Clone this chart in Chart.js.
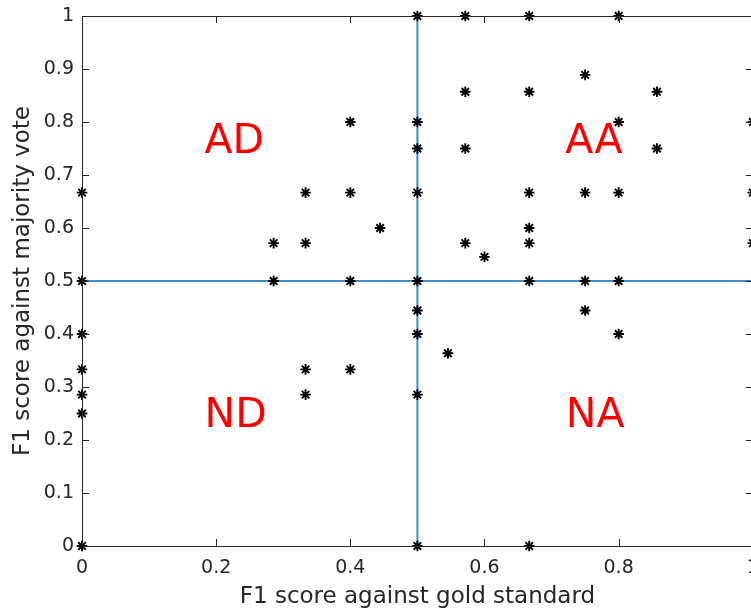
<!DOCTYPE html>
<html>
<head>
<meta charset="utf-8">
<script src="https://cdn.jsdelivr.net/npm/chart.js@4.4.0/dist/chart.umd.min.js"></script>
<style>
  html, body { margin: 0; padding: 0; background: #fff; overflow: hidden; }
  #wrap { width: 760px; height: 610px; }
</style>
</head>
<body>
<div id="wrap"><canvas id="grafico" width="760" height="610"></canvas></div>
<script>
// Dados do gráfico
const xTicks = [0, 0.2, 0.4, 0.6, 0.8, 1];
const yTicks = [0, 0.1, 0.2, 0.3, 0.4, 0.5, 0.6, 0.7, 0.8, 0.9, 1];

// F1 contra padrão ouro (x) e contra voto da maioria (y)
const goldF1 = [
    0, 0, 0, 0, 0, 0, 0,
    0.2857, 0.2857,
    0.3333, 0.3333, 0.3333, 0.3333,
    0.4, 0.4, 0.4, 0.4,
    0.4444,
    0.5, 0.5, 0.5, 0.5, 0.5, 0.5, 0.5, 0.5, 0.5,
    0.5455,
    0.5714, 0.5714, 0.5714, 0.5714,
    0.6,
    0.6667, 0.6667, 0.6667, 0.6667, 0.6667, 0.6667, 0.6667,
    0.75, 0.75, 0.75, 0.75,
    0.8, 0.8, 0.8, 0.8, 0.8,
    0.8571, 0.8571,
    1, 1, 1
];
const majorityF1 = [
    0.6667, 0.5, 0.4, 0.3333, 0.2857, 0.25, 0,
    0.5714, 0.5,
    0.6667, 0.5714, 0.3333, 0.2857,
    0.8, 0.6667, 0.5, 0.3333,
    0.6,
    1, 0.8, 0.75, 0.6667, 0.5, 0.4444, 0.4, 0.2857, 0,
    0.3636,
    1, 0.8571, 0.75, 0.5714,
    0.5455,
    1, 0.8571, 0.6667, 0.6, 0.5714, 0.5, 0,
    0.8889, 0.6667, 0.5, 0.4444,
    1, 0.8, 0.6667, 0.5, 0.4,
    0.8571, 0.75,
    0.8, 0.6667, 0.5714
];

// Limiares que dividem os quadrantes
const limiarX = 0.5;
const limiarY = 0.5;

// Rótulos dos quadrantes (centro em x, linha de base em y, em coordenadas de dados)
const quadrantes = ['AD', 'AA', 'ND', 'NA'];
const quadranteX = [0.227, 0.763, 0.229, 0.765];
const quadranteY = [0.741, 0.741, 0.225, 0.225];

const FONTE = 'DejaVu Sans';
const COR_EIXO = '#262626';

// Plugin: caixa estilo MATLAB com marcas para dentro + rótulos dos quadrantes
const caixaPlugin = {
    id: 'caixa',
    beforeDatasetsDraw(chart) {
        const { ctx, scales: { x, y } } = chart;
        ctx.save();
        ctx.fillStyle = '#ff0000';
        ctx.font = `41px "${FONTE}"`;
        ctx.textAlign = 'center';
        ctx.textBaseline = 'alphabetic';
        quadrantes.forEach((txt, i) => {
            ctx.fillText(txt, x.getPixelForValue(quadranteX[i]), y.getPixelForValue(quadranteY[i]));
        });
        ctx.restore();
    },
    afterDatasetsDraw(chart) {
        const { ctx, chartArea: a, scales: { x, y } } = chart;
        const tam = 7;
        ctx.save();
        ctx.strokeStyle = COR_EIXO;
        ctx.lineWidth = 1;
        ctx.beginPath();
        ctx.rect(Math.round(a.left) + 0.5, Math.round(a.top) + 0.5,
            Math.round(a.right - a.left), Math.round(a.bottom - a.top));
        xTicks.forEach(v => {
            const px = Math.round(x.getPixelForValue(v)) + 0.5;
            ctx.moveTo(px, a.bottom); ctx.lineTo(px, a.bottom - tam);
            ctx.moveTo(px, a.top); ctx.lineTo(px, a.top + tam);
        });
        yTicks.forEach(v => {
            const py = Math.round(y.getPixelForValue(v)) + 0.5;
            ctx.moveTo(a.left, py); ctx.lineTo(a.left + tam, py);
            ctx.moveTo(a.right, py); ctx.lineTo(a.right - tam, py);
        });
        ctx.stroke();
        ctx.restore();
    }
};

const pontos = goldF1.map((g, i) => ({ x: g, y: majorityF1[i] }));

new Chart(document.getElementById('grafico'), {
    type: 'scatter',
    data: {
        datasets: [
            {
                data: pontos,
                pointStyle: 'star',
                radius: 5.3,
                borderColor: '#000',
                backgroundColor: '#000',
                borderWidth: 1.9,
                clip: false,
                order: 1
            },
            {
                data: [{ x: limiarX, y: 0 }, { x: limiarX, y: 1 }],
                showLine: true,
                borderColor: '#3a8dd0',
                borderWidth: 2,
                pointRadius: 0,
                order: 2
            },
            {
                data: [{ x: 0, y: limiarY }, { x: 1, y: limiarY }],
                showLine: true,
                borderColor: '#3a8dd0',
                borderWidth: 2,
                pointRadius: 0,
                order: 2
            }
        ]
    },
    options: {
        responsive: false,
        animation: false,
        layout: { padding: { top: 16, right: 7, left: 0, bottom: 0 } },
        plugins: {
            legend: { display: false },
            tooltip: { enabled: false }
        },
        scales: {
            x: {
                type: 'linear',
                min: 0,
                max: 1,
                afterBuildTicks: s => { s.ticks = xTicks.map(v => ({ value: v })); },
                afterFit: s => { s.height = 64; s.paddingLeft = 0; s.paddingRight = 0; },
                grid: { display: false, drawTicks: false },
                border: { display: false },
                ticks: {
                    padding: 11,
                    color: COR_EIXO,
                    font: { family: FONTE, size: 19 },
                    callback: v => String(v),
                    maxRotation: 0
                },
                title: {
                    display: true,
                    text: 'F1 score against gold standard',
                    color: COR_EIXO,
                    font: { family: FONTE, size: 23, lineHeight: 1 },
                    padding: { top: 0, bottom: 1.5 }
                }
            },
            y: {
                type: 'linear',
                min: 0,
                max: 1,
                afterBuildTicks: s => { s.ticks = yTicks.map(v => ({ value: v })); },
                afterFit: s => { s.width = 82; s.paddingTop = 0; s.paddingBottom = 0; },
                grid: { display: false, drawTicks: false },
                border: { display: false },
                ticks: {
                    padding: 8,
                    color: COR_EIXO,
                    font: { family: FONTE, size: 19 },
                    callback: v => String(v)
                },
                title: {
                    display: true,
                    text: 'F1 score against majority vote',
                    color: COR_EIXO,
                    font: { family: FONTE, size: 23, lineHeight: 1 },
                    padding: { top: 12, bottom: 0 }
                }
            }
        }
    },
    plugins: [caixaPlugin]
});
</script>
</body>
</html>
